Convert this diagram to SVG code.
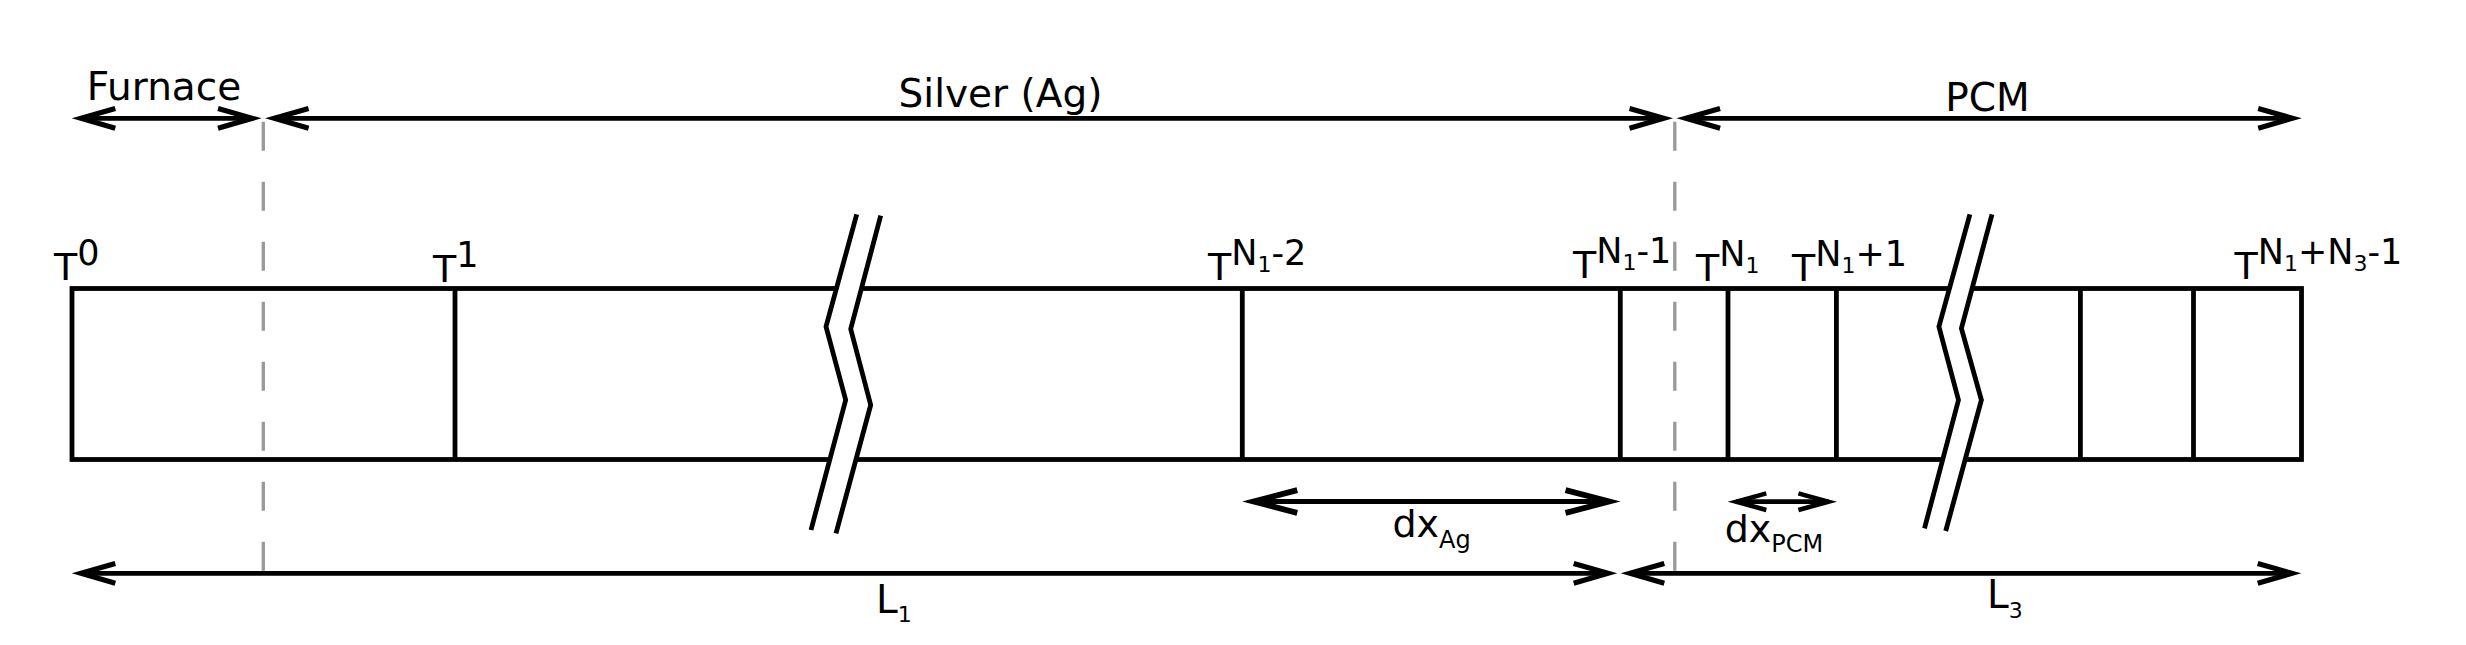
<svg xmlns="http://www.w3.org/2000/svg" width="2466" height="645" viewBox="0 0 2466 645">
<defs>
<style>
.lbl{font-family:"DejaVu Sans","Liberation Sans",sans-serif;fill:#000}
.big{font-size:39px}
.t{font-size:38px}
.sup{font-size:35px}
.sub{font-size:22px}
.sub24{font-size:24px}
.edge{fill:none;stroke:#000;stroke-width:4.8}
.cell{fill:none;stroke:#000;stroke-width:4.8}
.brk{fill:none;stroke:#000;stroke-width:4.8;stroke-linejoin:round}
.gap{fill:#fff;stroke:none}
.guide{fill:none;stroke:#999;stroke-width:3.3;stroke-dasharray:29 31}
.dim{fill:none;stroke:#000;stroke-width:4.8}
.head{fill:none;stroke:#000;stroke-linejoin:miter;stroke-miterlimit:10}
</style>
<marker id="ah" markerUnits="userSpaceOnUse" orient="auto-start-reverse" markerWidth="60" markerHeight="40" refX="0" refY="0" viewBox="-60 -20 70 40" overflow="visible">
<path class="head" stroke-width="6" d="M-40,-11.5 L0,0 L-40,11.5"/>
</marker>
<marker id="ahAg" markerUnits="userSpaceOnUse" orient="auto-start-reverse" markerWidth="70" markerHeight="40" refX="0" refY="0" viewBox="-70 -20 80 40" overflow="visible">
<path class="head" stroke-width="6.5" d="M-50,-13 L0,0 L-50,13"/>
</marker>
<marker id="ahPCM" markerUnits="userSpaceOnUse" orient="auto-start-reverse" markerWidth="50" markerHeight="30" refX="0" refY="0" viewBox="-50 -15 60 30" overflow="visible">
<path class="head" stroke-width="5.5" d="M-36,-10 L0,0 L-36,10"/>
</marker>
</defs>
<rect width="2466" height="645" fill="#fff"/>

<g id="guides">
<line class="guide" x1="263.3" y1="121.7" x2="263.3" y2="573"/>
<line class="guide" x1="1674.8" y1="121.7" x2="1674.8" y2="573"/>
</g>

<g id="rod">
<rect class="edge" x="72" y="288.5" width="2229.5" height="171"/>
<line class="cell" x1="455" y1="288.5" x2="455" y2="459.5"/>
<line class="cell" x1="1242.3" y1="288.5" x2="1242.3" y2="459.5"/>
<line class="cell" x1="1620.3" y1="288.5" x2="1620.3" y2="459.5"/>
<line class="cell" x1="1728" y1="288.5" x2="1728" y2="459.5"/>
<line class="cell" x1="1836.4" y1="288.5" x2="1836.4" y2="459.5"/>
<line class="cell" x1="2080.4" y1="288.5" x2="2080.4" y2="459.5"/>
<line class="cell" x1="2193.5" y1="288.5" x2="2193.5" y2="459.5"/>
</g>

<g id="break-silver">
<polygon class="gap" points="856.7,214.3 826,326.7 845.7,400 811,530 836,533.3 870.7,405 850.7,329 880.7,215.7"/>
<polyline class="brk" points="856.7,214.3 826,326.7 845.7,400 811,530"/>
<polyline class="brk" points="880.7,215.7 850.7,329 870.7,405 836,533.3"/>
</g>

<g id="break-pcm">
<polygon class="gap" points="1969.9,214.3 1938.9,326.7 1958.5,400 1924.5,528.3 1945.7,531 1981.4,400 1961.4,328.3 1992,214.3"/>
<polyline class="brk" points="1969.9,214.3 1938.9,326.7 1958.5,400 1924.5,528.3"/>
<polyline class="brk" points="1992,214.3 1961.4,328.3 1981.4,400 1945.7,531"/>
</g>

<g id="connectors">
<line class="dim" x1="81" y1="118.3" x2="252.3" y2="118.3" marker-start="url(#ah)" marker-end="url(#ah)"/>
<line class="dim" x1="274.3" y1="118.3" x2="1663.8" y2="118.3" marker-start="url(#ah)" marker-end="url(#ah)"/>
<line class="dim" x1="1685.8" y1="118.3" x2="2292.5" y2="118.3" marker-start="url(#ah)" marker-end="url(#ah)"/>
<line class="dim" x1="81" y1="573.3" x2="1608" y2="573.3" marker-start="url(#ah)" marker-end="url(#ah)"/>
<line class="dim" x1="1630" y1="573.3" x2="2292" y2="573.3" marker-start="url(#ah)" marker-end="url(#ah)"/>
<line class="dim" x1="1253.5" y1="501.5" x2="1609.3" y2="501.5" marker-start="url(#ahAg)" marker-end="url(#ahAg)"/>
<line class="dim" x1="1736.3" y1="501.7" x2="1828.4" y2="501.7" marker-start="url(#ahPCM)" marker-end="url(#ahPCM)"/>
</g>

<g id="label-furnace"><text class="lbl big" x="164" y="100" text-anchor="middle">Furnace</text></g>
<g id="label-silver"><text class="lbl big" x="1000.5" y="106.5" text-anchor="middle">Silver (Ag)</text></g>
<g id="label-pcm"><text class="lbl big" x="1987.5" y="111" text-anchor="middle">PCM</text></g>

<g id="label-T0"><text class="lbl t" x="54" y="280">T<tspan class="sup" dy="-15">0</tspan></text></g>
<g id="label-T1"><text class="lbl t" x="433" y="281.5">T<tspan class="sup" dy="-15">1</tspan></text></g>
<g id="label-TN1m2"><text class="lbl t" x="1208" y="280">T<tspan class="sup" dy="-15">N</tspan><tspan class="sub" dy="7">1</tspan><tspan class="sup" dy="-7">-2</tspan></text></g>
<g id="label-TN1m1"><text class="lbl t" x="1573" y="278">T<tspan class="sup" dy="-15">N</tspan><tspan class="sub" dy="7">1</tspan><tspan class="sup" dy="-7">-1</tspan></text></g>
<g id="label-TN1"><text class="lbl t" x="1696" y="280.5">T<tspan class="sup" dy="-15">N</tspan><tspan class="sub" dy="7">1</tspan></text></g>
<g id="label-TN1p1"><text class="lbl t" x="1792" y="280.5">T<tspan class="sup" dy="-15">N</tspan><tspan class="sub" dy="7">1</tspan><tspan class="sup" dy="-7">+1</tspan></text></g>
<g id="label-TN1N3"><text class="lbl t" x="2234.5" y="278.5">T<tspan class="sup" dy="-15">N</tspan><tspan class="sub" dy="7">1</tspan><tspan class="sup" dy="-7">+N</tspan><tspan class="sub" dy="7">3</tspan><tspan class="sup" dy="-7">-1</tspan></text></g>

<g id="label-dxAg"><text class="lbl t" x="1392.5" y="537.3">dx<tspan class="sub24" dy="11">Ag</tspan></text></g>
<g id="label-dxPCM"><text class="lbl t" x="1724.7" y="541.7">dx<tspan class="sub24" dy="10">PCM</tspan></text></g>
<g id="label-L1"><text class="lbl big" x="876" y="612.7">L<tspan class="sub" dy="9.6">1</tspan></text></g>
<g id="label-L3"><text class="lbl big" x="1987" y="608.3">L<tspan class="sub" dy="10">3</tspan></text></g>
</svg>
